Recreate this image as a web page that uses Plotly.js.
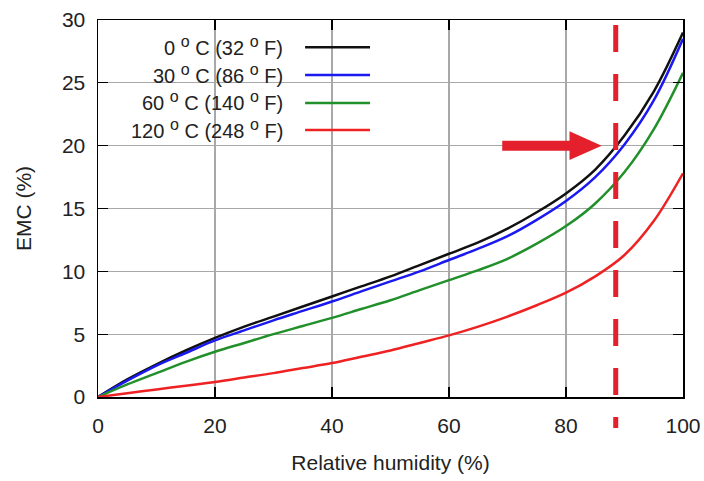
<!DOCTYPE html>
<html>
<head>
<meta charset="utf-8">
<script src="https://cdn.plot.ly/plotly-3.0.1.min.js"></script>
<style>html,body{margin:0;padding:0;background:#fff;}#chart{width:704px;height:481px;}</style>
</head>
<body>
<div id="chart"></div>
<script>
// Relative humidity (%)
const rh = [0, 5, 10, 15, 20, 25, 30, 35, 40, 45, 50, 55, 60, 65, 70, 75, 80, 85, 90, 95, 100];
// EMC (%) for each temperature
const emc0C   = [0, 1.4, 2.6, 3.7, 4.7, 5.6, 6.4, 7.2, 8.0, 8.8, 9.6, 10.5, 11.4, 12.3, 13.4, 14.7, 16.2, 18.1, 20.8, 24.3, 29.0];
const emc30C  = [0, 1.3, 2.5, 3.5, 4.5, 5.3, 6.1, 6.85, 7.6, 8.4, 9.2, 10.0, 10.9, 11.8, 12.8, 14.1, 15.6, 17.5, 20.1, 23.6, 28.5];
const emc60C  = [0, 1.0, 1.9, 2.8, 3.6, 4.3, 5.0, 5.65, 6.3, 7.0, 7.7, 8.5, 9.3, 10.1, 11.0, 12.2, 13.6, 15.4, 17.9, 21.3, 25.8];
const emc120C = [0, 0.3, 0.6, 0.9, 1.2, 1.55, 1.9, 2.3, 2.7, 3.2, 3.7, 4.3, 4.9, 5.6, 6.4, 7.3, 8.3, 9.6, 11.3, 14.0, 17.8];
const tempC = ["0", "30", "60", "120"];
const tempF = ["32", "86", "140", "248"];
const seriesValues = [emc0C, emc30C, emc60C, emc120C];
const seriesColors = ["#111111", "#1a1af0", "#22902a", "#ee2222"];
const xTicks = [0, 20, 40, 60, 80, 100];
const yTicks = [0, 5, 10, 15, 20, 25, 30];
// marker line and arrow (data units)
const markRH = 88.5;
const arrowFrom = 69.1, arrowHeadBase = 80.6, arrowTip = 86.1, arrowLevel = 20;

const markColor = "#e3202c";
const font = "Liberation Sans, Arial, sans-serif";
const deg = "<sup><span style='font-size:16px'>o</span></sup>";
const seriesNames = tempC.map((c, i) => `${c} ${deg} C (${tempF[i]} ${deg} F)`);

const traces = seriesValues.map((v, i) => ({
  x: rh, y: v, type: "scatter", mode: "lines", name: seriesNames[i],
  line: {color: seriesColors[i], width: 2.5, shape: "spline", smoothing: 1},
  showlegend: false, hoverinfo: "skip"
}));

const legendRowsY = [0.928, 0.854, 0.780, 0.708];
const annotations = seriesNames.map((n, i) => ({
  xref: "paper", yref: "paper", x: 0.320, y: legendRowsY[i] + 0.004,
  xanchor: "right", yanchor: "middle", text: n, showarrow: false,
  font: {family: font, size: 20, color: "#222"}
}));

const shapes = [];
seriesColors.forEach((c, i) => {
  shapes.push({type: "line", xref: "paper", yref: "paper",
    x0: 0.354, x1: 0.465, y0: legendRowsY[i], y1: legendRowsY[i],
    line: {color: c, width: 2.5}});
});
shapes.push({type: "line", xref: "x", yref: "paper", x0: markRH, x1: markRH,
  y0: 0.987, y1: -0.082, line: {color: markColor, width: 5, dash: "27px,22px"}});
shapes.push({type: "line", xref: "x", yref: "y", x0: arrowFrom, x1: arrowHeadBase + 0.3,
  y0: arrowLevel, y1: arrowLevel, line: {color: markColor, width: 10}});
shapes.push({type: "path", xref: "x", yref: "y",
  path: `M ${arrowHeadBase},${arrowLevel + 1.15} L ${arrowTip},${arrowLevel} L ${arrowHeadBase},${arrowLevel - 1.15} Z`,
  fillcolor: markColor, line: {width: 0}});

const axisCommon = {
  showline: true, linecolor: "#000", linewidth: 1.5, mirror: "allticks",
  ticks: "inside", ticklen: 10, tickwidth: 1.2, tickcolor: "#000",
  showgrid: true, gridcolor: "#a8a8a8", gridwidth: 1.2, zeroline: false,
  tickfont: {family: font, size: 21, color: "#222"}, automargin: false
};

const layout = {
  width: 704, height: 481,
  margin: {l: 98, r: 21, t: 20, b: 84},
  paper_bgcolor: "#fff", plot_bgcolor: "#fff",
  showlegend: false,
  xaxis: Object.assign({}, axisCommon, {
    range: [0, 100], tickvals: xTicks, ticklabelstandoff: 9,
    title: {text: "Relative humidity (%)", font: {family: font, size: 21, color: "#222"}, standoff: 19}
  }),
  yaxis: Object.assign({}, axisCommon, {
    range: [0, 30], tickvals: yTicks, ticklabelstandoff: 7,
    title: {text: "EMC (%)", font: {family: font, size: 21, color: "#222"}, standoff: 24}
  }),
  annotations: annotations,
  shapes: shapes
};

Plotly.newPlot("chart", traces, layout, {displayModeBar: false, staticPlot: true});
</script>
</body>
</html>
